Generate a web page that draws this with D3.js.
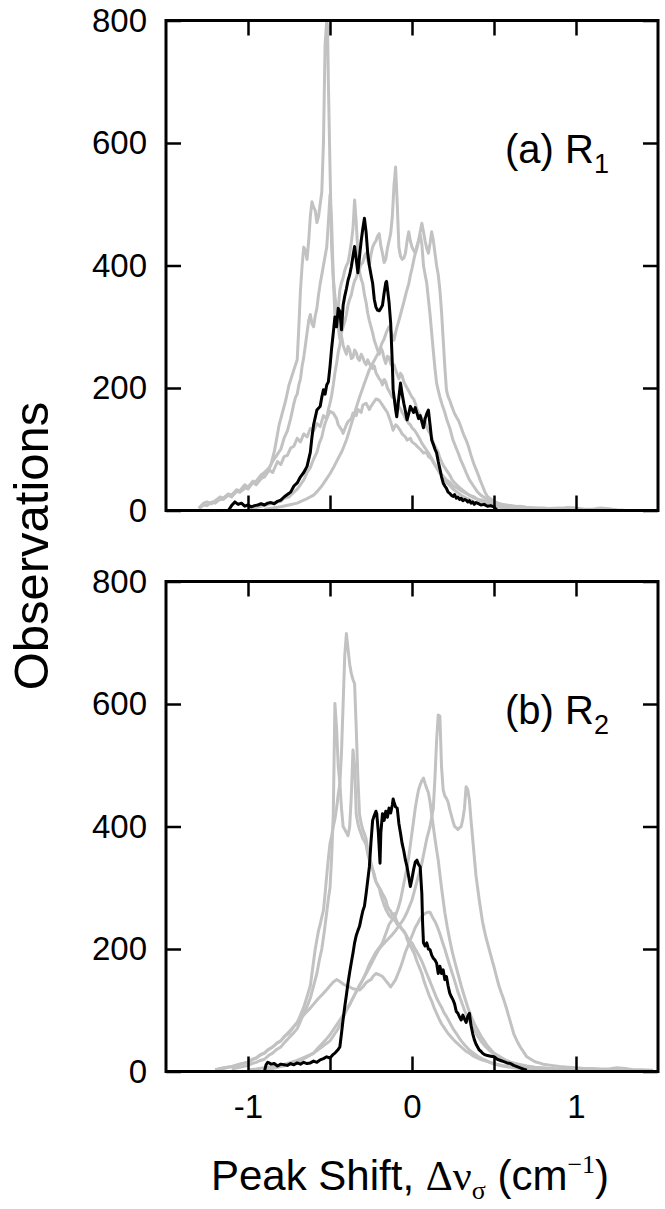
<!DOCTYPE html>
<html>
<head>
<meta charset="utf-8">
<script src="https://cdn.jsdelivr.net/npm/d3@7"></script>
<style>
  body { margin: 0; background: #fff; }
  text { font-family: "Liberation Sans", Arial, sans-serif; fill: #000; }
</style>
</head>
<body>
<svg id="chart" width="665" height="1209"></svg>
<script>
// x = peak shift (cm^-1), v = observations
const xTicks = [-1, -0.5, 0, 0.5, 1];
const xLabels = {"-1": "-1", "0": "0", "1": "1"};
const yTicks = [0, 200, 400, 600, 800];

// panel (a) R1
const blackA = [[-1.12,0],[-1.10,8],[-1.08,14],[-1.06,10],[-1.04,12],[-1.02,7],[-1.00,9],[-0.98,6],[-0.96,8],[-0.94,9],[-0.92,11],[-0.90,9],[-0.88,12],[-0.86,13],[-0.84,11],[-0.82,15],[-0.80,17],[-0.78,22],[-0.76,26],[-0.74,30],[-0.72,40],[-0.70,45],[-0.68,55],[-0.66,62],[-0.64,72],[-0.62,95],[-0.61,120],[-0.60,140],[-0.58,164],[-0.56,170],[-0.55,185],[-0.54,197],[-0.53,190],[-0.52,205],[-0.51,210],[-0.50,235],[-0.49,265],[-0.48,290],[-0.47,316],[-0.46,300],[-0.45,330],[-0.44,325],[-0.43,295],[-0.42,335],[-0.41,350],[-0.40,362],[-0.39,376],[-0.38,385],[-0.37,398],[-0.36,415],[-0.35,431],[-0.34,410],[-0.33,388],[-0.32,415],[-0.31,440],[-0.30,460],[-0.29,477],[-0.28,455],[-0.27,420],[-0.26,400],[-0.25,385],[-0.24,371],[-0.23,345],[-0.22,332],[-0.21,327],[-0.20,326],[-0.19,330],[-0.18,335],[-0.17,355],[-0.16,372],[-0.155,374],[-0.14,340],[-0.13,306],[-0.12,240],[-0.115,197],[-0.10,165],[-0.093,153],[-0.08,185],[-0.07,208],[-0.06,190],[-0.05,175],[-0.04,162],[-0.03,148],[-0.02,158],[-0.01,170],[0.00,165],[0.01,160],[0.02,168],[0.03,159],[0.04,150],[0.05,155],[0.06,145],[0.07,135],[0.08,150],[0.09,158],[0.10,164],[0.11,140],[0.12,115],[0.13,108],[0.14,100],[0.15,94],[0.16,80],[0.17,68],[0.18,55],[0.19,45],[0.20,40],[0.21,36],[0.22,30],[0.23,28],[0.24,25],[0.25,23],[0.26,26],[0.27,20],[0.28,22],[0.29,18],[0.30,20],[0.31,16],[0.32,18],[0.33,17],[0.34,14],[0.35,16],[0.36,12],[0.37,14],[0.38,10],[0.39,13],[0.40,12],[0.42,9],[0.44,10],[0.46,7],[0.48,8],[0.50,6],[0.51,3],[0.52,0]];

const grayA1 = [[-1.30,3],[-1.27,9],[-1.25,8],[-1.22,14],[-1.20,12],[-1.17,19],[-1.15,18],[-1.12,25],[-1.10,22],[-1.07,32],[-1.05,30],[-1.02,38],[-1.00,35],[-0.97,46],[-0.95,42],[-0.92,52],[-0.90,55],[-0.88,64],[-0.86,75],[-0.84,96],[-0.83,110],[-0.81,140],[-0.80,150],[-0.78,170],[-0.77,180],[-0.75,205],[-0.74,213],[-0.72,230],[-0.71,238],[-0.70,246],[-0.69,300],[-0.68,360],[-0.67,400],[-0.66,430],[-0.65,425],[-0.64,410],[-0.63,440],[-0.62,480],[-0.61,504],[-0.60,495],[-0.59,490],[-0.58,470],[-0.57,480],[-0.56,500],[-0.55,520],[-0.54,600],[-0.53,760],[-0.52,800],[-0.515,790],[-0.51,700],[-0.50,560],[-0.49,430],[-0.48,380],[-0.47,350],[-0.46,330],[-0.45,300],[-0.44,280],[-0.43,285],[-0.42,270],[-0.41,262],[-0.40,255],[-0.39,268],[-0.38,262],[-0.37,248],[-0.36,250],[-0.35,262],[-0.34,258],[-0.33,248],[-0.32,245],[-0.31,255],[-0.30,250],[-0.29,242],[-0.28,238],[-0.27,246],[-0.26,240],[-0.25,235],[-0.24,232],[-0.23,236],[-0.22,225],[-0.21,220],[-0.20,215],[-0.19,212],[-0.18,205],[-0.17,214],[-0.16,210],[-0.15,200],[-0.14,195],[-0.13,190],[-0.12,185],[-0.11,184],[-0.10,178],[-0.09,175],[-0.08,170],[-0.07,166],[-0.06,160],[-0.05,156],[-0.04,150],[-0.03,147],[-0.02,142],[-0.01,140],[0.00,135],[0.015,131],[0.03,125],[0.045,118],[0.06,110],[0.075,104],[0.09,98],[0.105,92],[0.12,85],[0.135,78],[0.15,70],[0.165,64],[0.18,58],[0.195,52],[0.21,46],[0.23,41],[0.25,35],[0.275,30],[0.30,25],[0.325,21],[0.35,18],[0.375,14],[0.40,12],[0.425,10],[0.45,9],[0.475,7],[0.50,6],[0.55,5],[0.60,4],[0.65,3],[0.70,2],[0.80,1]];

const grayA2 = [[-1.25,10],[-1.22,13],[-1.20,14],[-1.17,18],[-1.15,20],[-1.12,26],[-1.10,24],[-1.07,31],[-1.05,30],[-1.02,36],[-1.00,38],[-0.97,45],[-0.95,48],[-0.92,58],[-0.90,62],[-0.87,70],[-0.85,80],[-0.82,92],[-0.80,100],[-0.78,118],[-0.76,130],[-0.74,150],[-0.72,175],[-0.71,185],[-0.70,190],[-0.69,205],[-0.68,215],[-0.67,236],[-0.66,250],[-0.65,270],[-0.64,290],[-0.63,310],[-0.62,320],[-0.61,305],[-0.60,300],[-0.59,318],[-0.58,330],[-0.57,352],[-0.56,370],[-0.55,385],[-0.54,400],[-0.53,415],[-0.52,430],[-0.51,470],[-0.50,515],[-0.49,470],[-0.48,380],[-0.47,320],[-0.46,300],[-0.45,330],[-0.44,360],[-0.43,372],[-0.42,380],[-0.41,392],[-0.40,400],[-0.39,405],[-0.38,420],[-0.37,438],[-0.36,460],[-0.35,507],[-0.34,470],[-0.33,420],[-0.32,390],[-0.31,378],[-0.30,370],[-0.29,352],[-0.28,340],[-0.27,322],[-0.26,310],[-0.25,300],[-0.24,290],[-0.23,278],[-0.22,270],[-0.21,262],[-0.20,255],[-0.19,266],[-0.18,260],[-0.17,248],[-0.16,240],[-0.15,252],[-0.14,250],[-0.13,240],[-0.12,235],[-0.11,238],[-0.10,230],[-0.09,222],[-0.08,215],[-0.07,224],[-0.06,220],[-0.05,210],[-0.04,205],[-0.03,200],[-0.02,195],[-0.01,190],[0.00,185],[0.01,182],[0.02,175],[0.03,166],[0.04,160],[0.05,156],[0.06,150],[0.07,149],[0.08,145],[0.09,136],[0.10,130],[0.11,126],[0.12,120],[0.13,110],[0.14,105],[0.15,100],[0.16,95],[0.17,86],[0.18,80],[0.19,74],[0.20,70],[0.215,64],[0.23,58],[0.245,50],[0.26,45],[0.28,40],[0.30,35],[0.325,30],[0.35,25],[0.375,21],[0.40,18],[0.425,15],[0.45,12],[0.475,10],[0.50,8],[0.55,7],[0.60,5],[0.65,4],[0.70,3],[0.80,3],[0.90,2],[1.00,2],[1.10,1]];

const grayA3 = [[-1.00,3],[-0.95,5],[-0.90,8],[-0.85,12],[-0.80,15],[-0.78,20],[-0.75,22],[-0.72,30],[-0.70,35],[-0.68,42],[-0.66,50],[-0.64,62],[-0.62,70],[-0.60,84],[-0.58,95],[-0.565,110],[-0.55,120],[-0.535,138],[-0.52,150],[-0.51,165],[-0.50,175],[-0.49,188],[-0.48,205],[-0.47,225],[-0.46,240],[-0.45,258],[-0.44,270],[-0.43,290],[-0.42,300],[-0.41,308],[-0.40,320],[-0.39,336],[-0.38,345],[-0.37,352],[-0.36,365],[-0.35,375],[-0.34,380],[-0.33,390],[-0.32,395],[-0.31,402],[-0.30,405],[-0.29,415],[-0.28,420],[-0.27,408],[-0.26,400],[-0.25,418],[-0.24,430],[-0.23,436],[-0.22,440],[-0.21,448],[-0.20,452],[-0.19,432],[-0.18,420],[-0.17,405],[-0.16,410],[-0.15,428],[-0.14,440],[-0.13,452],[-0.12,480],[-0.11,530],[-0.10,561],[-0.09,500],[-0.08,430],[-0.07,415],[-0.06,410],[-0.05,412],[-0.04,420],[-0.03,440],[-0.02,455],[-0.01,440],[0.00,430],[0.01,425],[0.02,420],[0.03,428],[0.04,440],[0.05,455],[0.06,469],[0.07,455],[0.08,440],[0.09,428],[0.10,420],[0.11,436],[0.12,455],[0.13,441],[0.14,420],[0.15,400],[0.16,385],[0.17,360],[0.18,325],[0.19,280],[0.20,235],[0.21,197],[0.22,186],[0.23,180],[0.24,172],[0.25,165],[0.26,158],[0.27,153],[0.285,146],[0.30,135],[0.315,124],[0.33,115],[0.345,104],[0.36,90],[0.38,74],[0.40,61],[0.415,50],[0.43,40],[0.445,30],[0.46,23],[0.48,19],[0.50,15],[0.525,12],[0.55,10],[0.585,8],[0.62,6],[0.66,7],[0.70,5],[0.75,4],[0.80,4],[0.85,3],[0.90,3],[0.95,5],[1.00,4],[1.05,2],[1.10,2],[1.15,4],[1.20,3],[1.25,1],[1.31,0]];

const grayA4 = [[-0.90,2],[-0.85,4],[-0.80,6],[-0.75,9],[-0.70,12],[-0.65,18],[-0.60,25],[-0.575,32],[-0.55,40],[-0.525,50],[-0.50,60],[-0.475,72],[-0.45,85],[-0.425,98],[-0.40,115],[-0.38,132],[-0.36,150],[-0.34,168],[-0.32,185],[-0.30,200],[-0.28,215],[-0.26,230],[-0.24,240],[-0.22,250],[-0.20,260],[-0.185,272],[-0.17,280],[-0.155,292],[-0.14,300],[-0.125,290],[-0.11,278],[-0.095,296],[-0.08,310],[-0.065,325],[-0.05,340],[-0.035,356],[-0.02,370],[-0.01,384],[0.00,395],[0.01,408],[0.02,420],[0.03,432],[0.04,441],[0.05,450],[0.06,435],[0.07,400],[0.08,385],[0.09,371],[0.10,345],[0.11,320],[0.12,290],[0.13,260],[0.14,232],[0.15,208],[0.16,196],[0.17,185],[0.185,172],[0.20,160],[0.215,146],[0.23,135],[0.24,125],[0.25,115],[0.265,105],[0.28,95],[0.295,84],[0.31,75],[0.33,62],[0.35,50],[0.375,40],[0.40,30],[0.425,24],[0.45,20],[0.475,16],[0.50,12],[0.55,9],[0.60,6],[0.65,5],[0.70,4],[0.775,3],[0.85,2],[1.00,1]];

const grayA5 = [[-1.30,4],[-1.27,12],[-1.25,14],[-1.22,11],[-1.20,16],[-1.17,22],[-1.15,20],[-1.12,27],[-1.10,25],[-1.07,34],[-1.05,32],[-1.02,42],[-1.00,38],[-0.97,48],[-0.95,45],[-0.92,58],[-0.90,55],[-0.87,66],[-0.85,62],[-0.82,80],[-0.80,75],[-0.78,88],[-0.76,90],[-0.74,102],[-0.72,105],[-0.70,118],[-0.68,112],[-0.66,125],[-0.64,120],[-0.62,134],[-0.60,130],[-0.58,142],[-0.56,137],[-0.54,155],[-0.52,150],[-0.50,162],[-0.48,159],[-0.46,150],[-0.45,140],[-0.43,132],[-0.42,126],[-0.40,140],[-0.39,145],[-0.37,150],[-0.36,159],[-0.34,155],[-0.33,165],[-0.31,160],[-0.30,172],[-0.28,175],[-0.26,165],[-0.25,170],[-0.23,178],[-0.22,182],[-0.20,180],[-0.18,172],[-0.17,168],[-0.15,160],[-0.13,145],[-0.115,131],[-0.10,140],[-0.09,138],[-0.07,130],[-0.06,125],[-0.04,120],[-0.03,115],[-0.01,118],[0.00,112],[0.02,108],[0.03,105],[0.05,100],[0.07,94],[0.09,95],[0.10,88],[0.12,84],[0.13,78],[0.15,70],[0.17,61],[0.19,56],[0.21,50],[0.23,46],[0.25,40],[0.28,36],[0.30,32],[0.33,28],[0.35,25],[0.38,22],[0.40,18],[0.43,17],[0.45,15],[0.48,13],[0.50,12],[0.55,10],[0.60,8],[0.65,6],[0.70,5],[0.80,3],[0.90,4],[1.00,2],[1.20,1],[1.30,0]];

// panel (b) R2
const blackB = [[-0.90,0],[-0.89,11],[-0.88,15],[-0.87,14],[-0.86,12],[-0.84,13],[-0.82,9],[-0.80,12],[-0.78,11],[-0.76,10],[-0.74,13],[-0.72,11],[-0.70,14],[-0.68,12],[-0.66,15],[-0.64,13],[-0.62,14],[-0.60,17],[-0.58,15],[-0.56,19],[-0.54,21],[-0.52,24],[-0.50,22],[-0.48,28],[-0.47,30],[-0.46,33],[-0.45,36],[-0.44,40],[-0.43,62],[-0.42,85],[-0.41,106],[-0.40,125],[-0.39,145],[-0.38,162],[-0.37,178],[-0.36,193],[-0.35,210],[-0.34,222],[-0.33,230],[-0.32,237],[-0.31,250],[-0.30,262],[-0.29,270],[-0.28,290],[-0.27,312],[-0.26,334],[-0.25,375],[-0.24,410],[-0.23,418],[-0.22,425],[-0.215,421],[-0.205,390],[-0.195,340],[-0.19,390],[-0.18,421],[-0.17,410],[-0.16,425],[-0.15,415],[-0.14,430],[-0.13,422],[-0.12,435],[-0.115,445],[-0.11,440],[-0.10,432],[-0.09,430],[-0.08,405],[-0.07,389],[-0.06,372],[-0.05,360],[-0.04,345],[-0.03,334],[-0.02,318],[-0.01,302],[0.00,315],[0.01,330],[0.02,342],[0.03,345],[0.04,338],[0.05,334],[0.06,290],[0.065,240],[0.07,210],[0.08,205],[0.09,210],[0.10,200],[0.11,199],[0.12,190],[0.13,185],[0.14,182],[0.15,177],[0.16,160],[0.17,172],[0.18,160],[0.19,166],[0.20,150],[0.21,155],[0.22,140],[0.23,128],[0.24,122],[0.25,117],[0.26,110],[0.27,98],[0.28,95],[0.29,89],[0.30,84],[0.31,92],[0.32,86],[0.33,80],[0.34,90],[0.35,95],[0.36,75],[0.37,62],[0.38,52],[0.39,45],[0.40,40],[0.41,35],[0.42,33],[0.43,30],[0.44,28],[0.46,26],[0.48,25],[0.50,24],[0.52,20],[0.54,18],[0.56,16],[0.58,14],[0.60,13],[0.62,10],[0.64,8],[0.66,6],[0.68,4],[0.70,2]];

const grayB1 = [[-1.20,3],[-1.15,6],[-1.10,8],[-1.05,12],[-1.00,15],[-0.975,20],[-0.95,22],[-0.925,27],[-0.90,30],[-0.875,36],[-0.85,40],[-0.825,46],[-0.80,50],[-0.775,58],[-0.75,62],[-0.725,72],[-0.70,80],[-0.68,92],[-0.66,105],[-0.64,122],[-0.62,140],[-0.61,160],[-0.60,180],[-0.59,200],[-0.58,215],[-0.57,230],[-0.56,240],[-0.55,252],[-0.54,263],[-0.53,290],[-0.52,320],[-0.51,348],[-0.50,372],[-0.49,385],[-0.48,400],[-0.47,412],[-0.46,430],[-0.45,452],[-0.44,470],[-0.43,520],[-0.42,600],[-0.41,680],[-0.40,715],[-0.39,690],[-0.38,665],[-0.37,650],[-0.36,640],[-0.35,633],[-0.34,560],[-0.33,480],[-0.32,420],[-0.31,405],[-0.30,395],[-0.29,388],[-0.28,380],[-0.27,362],[-0.26,350],[-0.25,340],[-0.24,330],[-0.23,322],[-0.22,310],[-0.21,305],[-0.20,300],[-0.19,296],[-0.18,290],[-0.17,286],[-0.16,280],[-0.15,270],[-0.14,265],[-0.13,262],[-0.12,255],[-0.11,258],[-0.10,250],[-0.09,244],[-0.08,240],[-0.07,236],[-0.06,232],[-0.05,230],[-0.04,225],[-0.03,216],[-0.02,210],[-0.01,205],[0.00,200],[0.015,192],[0.03,180],[0.045,170],[0.06,160],[0.075,146],[0.09,135],[0.105,124],[0.12,115],[0.135,104],[0.15,95],[0.165,86],[0.18,78],[0.20,70],[0.22,62],[0.24,56],[0.26,50],[0.28,45],[0.30,40],[0.325,34],[0.35,30],[0.375,25],[0.40,22],[0.425,19],[0.45,17],[0.475,15],[0.50,13],[0.55,10],[0.60,8],[0.65,6],[0.70,5],[0.775,4],[0.85,3],[1.00,2],[1.20,1]];

const grayB2 = [[-1.10,4],[-1.05,7],[-1.00,10],[-0.975,13],[-0.95,15],[-0.925,18],[-0.90,20],[-0.875,26],[-0.85,30],[-0.825,36],[-0.80,40],[-0.775,48],[-0.75,55],[-0.725,62],[-0.70,70],[-0.68,82],[-0.66,95],[-0.64,106],[-0.62,120],[-0.60,140],[-0.58,160],[-0.565,182],[-0.55,200],[-0.535,228],[-0.52,260],[-0.51,282],[-0.50,300],[-0.49,350],[-0.48,420],[-0.47,601],[-0.46,560],[-0.45,500],[-0.44,471],[-0.43,430],[-0.42,400],[-0.41,395],[-0.40,390],[-0.39,385],[-0.38,400],[-0.37,450],[-0.36,525],[-0.35,500],[-0.34,420],[-0.33,405],[-0.32,395],[-0.31,388],[-0.30,380],[-0.29,376],[-0.28,370],[-0.27,355],[-0.26,345],[-0.25,336],[-0.24,330],[-0.23,318],[-0.22,310],[-0.21,305],[-0.20,300],[-0.19,288],[-0.18,280],[-0.17,272],[-0.16,265],[-0.15,260],[-0.14,255],[-0.13,252],[-0.12,250],[-0.11,248],[-0.10,245],[-0.09,240],[-0.08,238],[-0.07,235],[-0.06,232],[-0.05,228],[-0.04,225],[-0.03,220],[-0.02,215],[-0.01,212],[0.00,210],[0.015,202],[0.03,195],[0.045,188],[0.06,180],[0.075,170],[0.09,160],[0.105,150],[0.12,140],[0.135,130],[0.15,120],[0.165,112],[0.18,105],[0.195,96],[0.21,90],[0.23,80],[0.25,70],[0.275,60],[0.30,50],[0.325,42],[0.35,35],[0.375,30],[0.40,25],[0.425,21],[0.45,18],[0.475,15],[0.50,12],[0.55,9],[0.60,7],[0.65,5],[0.70,4],[0.775,3],[0.85,2]];

const grayB3 = [[-0.90,3],[-0.85,5],[-0.80,8],[-0.75,11],[-0.70,15],[-0.65,22],[-0.60,30],[-0.55,40],[-0.50,50],[-0.475,60],[-0.45,70],[-0.425,85],[-0.40,100],[-0.375,112],[-0.35,125],[-0.325,138],[-0.30,150],[-0.275,162],[-0.25,175],[-0.225,188],[-0.20,200],[-0.175,208],[-0.15,215],[-0.125,222],[-0.10,230],[-0.08,238],[-0.06,245],[-0.045,252],[-0.03,260],[-0.015,270],[0.00,280],[0.015,295],[0.03,310],[0.045,325],[0.06,340],[0.075,360],[0.09,380],[0.10,390],[0.11,400],[0.12,415],[0.13,430],[0.14,480],[0.15,540],[0.16,582],[0.17,580],[0.18,498],[0.19,460],[0.20,450],[0.21,446],[0.22,440],[0.23,428],[0.24,418],[0.25,408],[0.26,400],[0.27,398],[0.28,395],[0.29,398],[0.30,400],[0.31,412],[0.32,430],[0.33,465],[0.34,460],[0.35,443],[0.36,410],[0.37,380],[0.38,350],[0.39,320],[0.40,300],[0.41,280],[0.42,262],[0.43,245],[0.44,232],[0.45,220],[0.465,205],[0.48,190],[0.49,180],[0.50,171],[0.515,155],[0.53,140],[0.545,128],[0.56,117],[0.575,104],[0.59,90],[0.605,76],[0.62,62],[0.64,50],[0.66,40],[0.68,32],[0.70,24],[0.725,20],[0.75,16],[0.775,14],[0.80,12],[0.85,10],[0.90,8],[0.95,7],[1.00,6],[1.05,5],[1.10,5],[1.15,4],[1.20,4],[1.25,6],[1.30,5],[1.35,3],[1.40,3],[1.47,2]];

const grayB4 = [[-1.00,3],[-0.95,4],[-0.90,6],[-0.85,8],[-0.80,10],[-0.75,14],[-0.70,18],[-0.65,24],[-0.60,30],[-0.575,38],[-0.55,45],[-0.525,52],[-0.50,60],[-0.475,70],[-0.45,80],[-0.425,90],[-0.40,100],[-0.375,112],[-0.35,125],[-0.325,138],[-0.30,150],[-0.28,162],[-0.26,175],[-0.24,185],[-0.22,195],[-0.20,202],[-0.18,210],[-0.16,225],[-0.14,240],[-0.12,248],[-0.10,255],[-0.085,266],[-0.07,280],[-0.055,300],[-0.04,320],[-0.03,334],[-0.02,350],[-0.01,370],[0.00,390],[0.01,410],[0.02,430],[0.03,446],[0.04,460],[0.05,468],[0.06,475],[0.07,479],[0.08,470],[0.09,462],[0.10,455],[0.11,440],[0.12,420],[0.13,400],[0.14,380],[0.15,362],[0.16,345],[0.17,322],[0.18,300],[0.19,280],[0.20,260],[0.215,236],[0.23,215],[0.245,196],[0.26,180],[0.28,160],[0.30,140],[0.32,122],[0.34,105],[0.36,90],[0.38,78],[0.40,68],[0.42,58],[0.44,50],[0.46,42],[0.48,36],[0.50,30],[0.525,26],[0.55,22],[0.575,18],[0.60,15],[0.65,11],[0.70,8],[0.75,6],[0.80,5],[0.85,4],[0.90,3],[1.00,2]];

const grayB5 = [[-1.20,3],[-1.15,5],[-1.10,8],[-1.05,12],[-1.00,15],[-0.975,19],[-0.95,22],[-0.925,27],[-0.90,30],[-0.875,36],[-0.85,40],[-0.825,46],[-0.80,50],[-0.775,58],[-0.75,65],[-0.725,72],[-0.70,80],[-0.675,88],[-0.65,95],[-0.625,102],[-0.60,110],[-0.575,118],[-0.55,125],[-0.525,132],[-0.50,140],[-0.48,146],[-0.46,150],[-0.445,148],[-0.43,145],[-0.415,142],[-0.40,140],[-0.38,138],[-0.36,135],[-0.34,134],[-0.32,133],[-0.30,138],[-0.28,145],[-0.265,148],[-0.25,150],[-0.235,156],[-0.22,160],[-0.20,158],[-0.18,155],[-0.165,150],[-0.15,145],[-0.13,138],[-0.115,144],[-0.10,150],[-0.085,160],[-0.07,170],[-0.055,182],[-0.04,195],[-0.025,205],[-0.01,215],[0.005,225],[0.02,235],[0.035,242],[0.05,250],[0.065,255],[0.08,258],[0.095,260],[0.11,260],[0.125,252],[0.14,245],[0.155,236],[0.17,225],[0.185,212],[0.20,200],[0.22,182],[0.24,165],[0.26,148],[0.28,130],[0.30,115],[0.32,100],[0.34,88],[0.36,78],[0.38,68],[0.40,58],[0.425,48],[0.45,40],[0.475,34],[0.50,28],[0.525,24],[0.55,20],[0.575,18],[0.60,15],[0.65,12],[0.70,9],[0.75,7],[0.80,6],[0.85,5],[0.90,4],[1.00,3],[1.10,3],[1.20,2],[1.30,2],[1.40,1]];

const panels = [
  {id: "a", label: "(a) R", sub: "1", gray: [grayA1, grayA2, grayA3, grayA4, grayA5], black: blackA, top: 20.5, bottom: 510.5, xlab: false},
  {id: "b", label: "(b) R", sub: "2", gray: [grayB1, grayB2, grayB3, grayB4, grayB5], black: blackB, top: 581.5, bottom: 1071.5, xlab: true}
];

const svg = d3.select("#chart");
const x = d3.scaleLinear().domain([-1.5, 1.5]).range([166, 658]);

panels.forEach(p => {
  const y = d3.scaleLinear().domain([0, 800]).range([p.bottom, p.top]);
  const g = svg.append("g").attr("class", "panel-" + p.id);

  g.append("clipPath").attr("id", "clip-" + p.id)
    .append("rect")
      .attr("x", 166).attr("y", p.top)
      .attr("width", 492).attr("height", p.bottom - p.top);

  const line = d3.line()
    .x(d => x(d[0]))
    .y(d => y(d[1]));

  const plot = g.append("g").attr("clip-path", "url(#clip-" + p.id + ")");

  plot.selectAll("path.gray")
    .data(p.gray)
    .join("path")
      .attr("class", "gray")
      .attr("d", line)
      .attr("fill", "none")
      .attr("stroke", "#c2c2c2")
      .attr("stroke-width", 3)
      .attr("stroke-linejoin", "round");

  plot.append("path")
    .datum(p.black)
    .attr("d", line)
    .attr("fill", "none")
    .attr("stroke", "#000")
    .attr("stroke-width", 3)
    .attr("stroke-linejoin", "round");

  // axes, ticks pointing inward
  const bottom = g.append("g")
    .attr("transform", `translate(0,${p.bottom})`)
    .call(d3.axisBottom(x).tickValues(xTicks).tickSize(-15).tickPadding(23)
      .tickFormat(d => p.xlab ? (xLabels[String(d)] || "") : ""));
  const topAx = g.append("g")
    .attr("transform", `translate(0,${p.top})`)
    .call(d3.axisTop(x).tickValues(xTicks).tickSize(-15).tickFormat(""));
  const left = g.append("g")
    .attr("transform", `translate(166,0)`)
    .call(d3.axisLeft(y).tickValues(yTicks).tickSize(-15).tickPadding(19));
  const right = g.append("g")
    .attr("transform", `translate(658,0)`)
    .call(d3.axisRight(y).tickValues(yTicks).tickSize(-15).tickFormat(""));

  [bottom, topAx, left, right].forEach(a => {
    a.select(".domain").remove();
    a.selectAll(".tick line").attr("stroke", "#000").attr("stroke-width", 2.5);
    a.selectAll(".tick text")
      .attr("font-family", "Liberation Sans, Arial, sans-serif")
      .attr("font-size", 33)
      .attr("fill", "#000");
  });

  g.append("rect")
    .attr("x", 166).attr("y", p.top)
    .attr("width", 492).attr("height", p.bottom - p.top)
    .attr("fill", "none")
    .attr("stroke", "#000")
    .attr("stroke-width", 3);

  const lab = g.append("text")
    .attr("x", 505)
    .attr("y", y(568))
    .attr("font-size", 40);
  lab.append("tspan").text(p.label);
  lab.append("tspan").attr("dy", 10).attr("font-size", 27).text(p.sub);
});

// axis titles
svg.append("text")
  .attr("transform", "translate(48,546) rotate(-90)")
  .attr("text-anchor", "middle")
  .attr("font-size", 49)
  .text("Observations");

const xt = svg.append("text")
  .attr("x", 410)
  .attr("y", 1190)
  .attr("text-anchor", "middle")
  .attr("font-size", 42);
xt.append("tspan").text("Peak Shift, ");
xt.append("tspan").attr("font-family", "Liberation Serif, Times New Roman, serif").text("\u0394\u03bd");
xt.append("tspan").attr("font-family", "Liberation Serif, Times New Roman, serif")
  .attr("font-size", 26).attr("dy", 9).text("\u03c3");
xt.append("tspan").attr("dy", -9).text(" (cm");
xt.append("tspan").attr("font-family", "Liberation Serif, Times New Roman, serif")
  .attr("font-size", 26).attr("dy", -17).text("\u22121");
xt.append("tspan").attr("dy", 17).text(")");
</script>
</body>
</html>
